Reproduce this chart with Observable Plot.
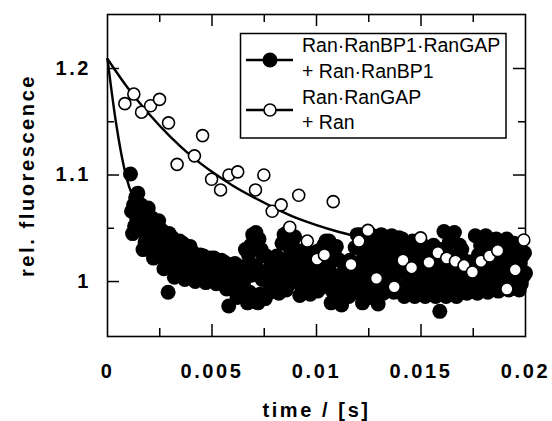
<!DOCTYPE html>
<html><head><meta charset="utf-8">
<script src="https://cdn.jsdelivr.net/npm/d3@7"></script>
<script src="https://cdn.jsdelivr.net/npm/@observablehq/plot@0.6"></script>
<style>
html,body{margin:0;padding:0;background:#fff;}
#wrap{position:relative;width:552px;height:421px;}
#legend{position:absolute;left:0;top:0;pointer-events:none;}
</style></head><body><div id="wrap"></div>
<script>
// Ran·RanBP1·RanGAP + Ran·RanBP1 (filled circles)
const filledTime = [
  0.00110,0.00115,0.00120,0.00125,0.00130,0.00135,0.00140,0.00145,0.00150,0.00155,
  0.00160,0.00165,0.00170,0.00175,0.00180,0.00185,0.00190,0.00195,0.00200,0.00205,
  0.00210,0.00215,0.00220,0.00225,0.00230,0.00235,0.00240,0.00245,0.00250,0.00255,
  0.00260,0.00265,0.00270,0.00275,0.00280,0.00285,0.00290,0.00295,0.00300,0.00305,
  0.00310,0.00315,0.00320,0.00325,0.00330,0.00335,0.00340,0.00345,0.00350,0.00355,
  0.00360,0.00365,0.00370,0.00375,0.00380,0.00385,0.00390,0.00395,0.00400,0.00405,
  0.00410,0.00415,0.00420,0.00425,0.00430,0.00435,0.00440,0.00445,0.00450,0.00455,
  0.00460,0.00465,0.00470,0.00475,0.00480,0.00485,0.00490,0.00495,0.00500,0.00505,
  0.00510,0.00515,0.00520,0.00525,0.00530,0.00535,0.00540,0.00545,0.00550,0.00555,
  0.00560,0.00565,0.00570,0.00575,0.00580,0.00585,0.00590,0.00595,0.00600,0.00605,
  0.00610,0.00615,0.00620,0.00625,0.00630,0.00635,0.00640,0.00645,0.00650,0.00655,
  0.00660,0.00665,0.00670,0.00675,0.00680,0.00685,0.00690,0.00695,0.00700,0.00705,
  0.00710,0.00715,0.00720,0.00725,0.00730,0.00735,0.00740,0.00745,0.00750,0.00755,
  0.00760,0.00765,0.00770,0.00775,0.00780,0.00785,0.00790,0.00795,0.00800,0.00805,
  0.00810,0.00815,0.00820,0.00825,0.00830,0.00835,0.00840,0.00845,0.00850,0.00855,
  0.00860,0.00865,0.00870,0.00875,0.00880,0.00885,0.00890,0.00895,0.00900,0.00905,
  0.00910,0.00915,0.00920,0.00925,0.00930,0.00935,0.00940,0.00945,0.00950,0.00955,
  0.00960,0.00965,0.00970,0.00975,0.00980,0.00985,0.00990,0.00995,0.01000,0.01005,
  0.01010,0.01015,0.01020,0.01025,0.01030,0.01035,0.01040,0.01045,0.01050,0.01055,
  0.01060,0.01065,0.01070,0.01075,0.01080,0.01085,0.01090,0.01095,0.01100,0.01105,
  0.01110,0.01115,0.01120,0.01125,0.01130,0.01135,0.01140,0.01145,0.01150,0.01155,
  0.01160,0.01165,0.01170,0.01175,0.01180,0.01185,0.01190,0.01195,0.01200,0.01205,
  0.01210,0.01215,0.01220,0.01225,0.01230,0.01235,0.01240,0.01245,0.01250,0.01255,
  0.01260,0.01265,0.01270,0.01275,0.01280,0.01285,0.01290,0.01295,0.01300,0.01305,
  0.01310,0.01315,0.01320,0.01325,0.01330,0.01335,0.01340,0.01345,0.01350,0.01355,
  0.01360,0.01365,0.01370,0.01375,0.01380,0.01385,0.01390,0.01395,0.01400,0.01405,
  0.01410,0.01415,0.01420,0.01425,0.01430,0.01435,0.01440,0.01445,0.01450,0.01455,
  0.01460,0.01465,0.01470,0.01475,0.01480,0.01485,0.01490,0.01495,0.01500,0.01505,
  0.01510,0.01515,0.01520,0.01525,0.01530,0.01535,0.01540,0.01545,0.01550,0.01555,
  0.01560,0.01565,0.01570,0.01575,0.01580,0.01585,0.01590,0.01595,0.01600,0.01605,
  0.01610,0.01615,0.01620,0.01625,0.01630,0.01635,0.01640,0.01645,0.01650,0.01655,
  0.01660,0.01665,0.01670,0.01675,0.01680,0.01685,0.01690,0.01695,0.01700,0.01705,
  0.01710,0.01715,0.01720,0.01725,0.01730,0.01735,0.01740,0.01745,0.01750,0.01755,
  0.01760,0.01765,0.01770,0.01775,0.01780,0.01785,0.01790,0.01795,0.01800,0.01805,
  0.01810,0.01815,0.01820,0.01825,0.01830,0.01835,0.01840,0.01845,0.01850,0.01855,
  0.01860,0.01865,0.01870,0.01875,0.01880,0.01885,0.01890,0.01895,0.01900,0.01905,
  0.01910,0.01915,0.01920,0.01925,0.01930,0.01935,0.01940,0.01945,0.01950,0.01955,
  0.01960,0.01965,0.01970,0.01975,0.01980,0.01985,0.01990,0.01995,0.02000
];
const filledValue = [
  1.101,1.066,1.045,1.072,1.052,1.079,1.059,1.083,1.062,1.048,
  1.072,1.051,1.030,1.058,1.037,1.065,1.044,1.069,1.048,1.033,
  1.060,1.041,1.022,1.047,1.028,1.054,1.035,1.057,1.038,1.025,
  1.048,1.030,1.012,1.036,1.018,1.042,0.990,1.045,1.027,1.015,
  1.041,1.023,1.004,1.029,1.010,1.035,1.016,1.038,1.020,1.007,
  1.036,1.019,1.002,1.025,1.008,1.030,1.013,1.033,1.016,1.005,
  1.027,1.014,1.000,1.018,1.005,1.022,1.009,1.025,1.011,1.002,
  1.024,1.012,0.999,1.016,1.003,1.020,1.007,1.022,1.009,1.001,
  1.022,1.010,0.998,1.014,1.002,1.018,1.006,1.020,1.008,1.000,
  1.018,1.006,0.993,1.010,0.977,1.014,1.001,1.016,1.004,0.995,
  1.017,1.001,0.985,1.006,0.990,1.012,0.996,1.014,0.998,0.988,
  1.030,1.010,0.980,1.025,0.990,1.034,1.006,1.044,1.015,0.985,
  1.046,1.013,0.980,1.040,0.988,1.030,1.002,1.024,1.008,0.984,
  1.024,1.006,0.989,1.012,0.995,1.018,1.001,1.021,1.004,0.992,
  1.024,1.006,0.989,1.014,0.996,1.036,1.004,1.044,1.020,0.992,
  1.046,1.022,0.998,1.030,1.006,1.038,1.014,1.042,1.018,1.002,
  1.029,1.008,0.987,1.015,0.994,1.022,1.001,1.026,1.005,0.990,
  1.028,1.009,0.988,1.016,0.993,1.023,1.000,1.027,1.004,0.991,
  1.029,1.012,0.994,1.020,0.998,1.034,1.006,1.038,1.016,0.996,
  1.038,1.009,0.980,1.019,0.990,1.028,1.000,1.033,1.004,0.985,
  1.020,0.999,0.978,1.006,0.984,1.013,0.992,1.017,0.996,0.986,
  1.020,1.004,0.989,1.010,0.994,1.032,1.002,1.044,1.016,0.992,
  1.044,1.012,0.980,1.023,0.991,1.033,1.001,1.039,1.007,0.985,
  1.044,1.020,0.995,1.028,0.999,1.036,1.011,0.979,1.024,0.997,
  1.044,1.016,0.989,1.026,0.998,1.035,1.007,1.040,1.012,0.993,
  1.043,1.017,0.990,1.025,0.997,1.036,1.008,1.041,1.013,0.992,
  1.040,1.013,0.986,1.022,0.995,1.031,1.004,1.036,1.009,0.990,
  1.038,1.012,0.986,1.021,0.995,1.029,1.003,1.034,1.008,0.990,
  1.034,1.010,0.986,1.018,0.994,1.026,1.002,1.030,1.006,0.990,
  1.034,1.010,0.986,1.018,0.994,1.026,0.972,1.030,1.006,0.990,
  1.047,1.016,0.986,1.027,0.996,1.037,1.006,1.042,1.012,0.991,
  1.046,1.014,0.986,1.024,0.995,1.034,1.004,1.030,1.009,0.990,
  1.019,1.004,0.989,1.009,0.994,1.014,0.999,1.017,1.002,0.991,
  1.043,1.016,0.989,1.025,0.998,1.034,1.007,1.039,1.012,0.993,
  1.043,1.016,0.990,1.025,0.999,1.034,1.008,1.039,1.012,0.994,
  1.040,1.015,0.991,1.024,0.999,1.032,1.007,1.036,1.012,0.995,
  1.040,1.016,0.992,1.024,1.000,1.032,1.008,1.036,1.012,0.996,
  1.030,1.011,0.992,1.017,0.998,1.024,1.005,1.027,1.008
];
// Ran·RanGAP + Ran (open circles)
const openTime = [
  0.00083,0.00126,0.00163,0.00206,0.00249,0.00292,0.00333,0.00416,0.00455,0.00498,
  0.00541,0.00581,0.00623,0.00708,0.00748,0.00788,0.00831,0.00872,0.00915,0.00956,
  0.01003,0.01038,0.01080,0.01165,0.01203,0.01246,0.01287,0.01372,0.01414,0.01455,
  0.01498,0.01538,0.01581,0.01623,0.01665,0.01706,0.01746,0.01787,0.01828,0.01867,
  0.01911,0.01951,0.01992
];
const openValue = [
  1.167,1.176,1.159,1.165,1.171,1.149,1.110,1.118,1.137,1.096,
  1.086,1.100,1.103,1.086,1.100,1.066,1.072,1.051,1.081,1.038,
  1.021,1.025,1.075,1.016,1.038,1.048,1.003,0.995,1.020,1.013,
  1.041,1.018,1.027,1.022,1.019,1.015,1.009,1.019,1.024,1.029,
  0.993,1.011,1.039
];
// fitted curves
const fitFilledTime  = [0, 0.0004, 0.0009, 0.0013, 0.002, 0.003, 0.004, 0.006, 0.010, 0.020];
const fitFilledValue = [1.209, 1.150, 1.098, 1.075, 1.048, 1.028, 1.019, 1.013, 1.011, 1.011];
const fitOpenTime  = [0, 0.001, 0.002, 0.003, 0.004, 0.005, 0.006, 0.007, 0.008, 0.009, 0.010, 0.011, 0.012, 0.013, 0.014, 0.016, 0.018, 0.020];
const fitOpenValue = [1.209, 1.181, 1.157, 1.136, 1.118, 1.103, 1.090, 1.079, 1.069, 1.060, 1.053, 1.047, 1.042, 1.037, 1.033, 1.027, 1.023, 1.019];

// axes
const xLabelTicks = [0, 0.005, 0.01, 0.015, 0.02];
const xMajorTicks = [0.005, 0.01, 0.015];
const xMinorTicks = [0.0025, 0.0075, 0.0125, 0.0175];
const yLabelTicks = [1, 1.1, 1.2];
const yMinorTicks = [1.05, 1.15];
const xTitle = "time / [s]";
const yTitle = "rel. fluorescence";
const legendLabels = [["Ran·RanBP1·RanGAP", "+ Ran·RanBP1"], ["Ran·RanGAP", "+ Ran"]];

const font = '"Liberation Sans", Arial, Helvetica, sans-serif';
const tk = {stroke: "black", strokeWidth: 1.5};

const chart = Plot.plot({
  width: 552, height: 421,
  marginLeft: 107, marginRight: 27, marginTop: 14, marginBottom: 85,
  x: {domain: [0, 0.02]},
  y: {domain: [0.9484, 1.2507]},
  style: {background: "white", color: "black", fontFamily: font, letterSpacing: "2.6px"},
  marks: [
    Plot.frame({stroke: "black", strokeWidth: 1.6}),
    Plot.tickX(xMajorTicks, {x: d => d, insetTop: 310, ...tk}),
    Plot.tickX(xMinorTicks, {x: d => d, insetTop: 314, ...tk}),
    Plot.tickX(xMajorTicks, {x: d => d, insetBottom: 310, ...tk}),
    Plot.tickX(xMinorTicks, {x: d => d, insetBottom: 314, ...tk}),
    Plot.tickY(yLabelTicks, {y: d => d, insetRight: 406, ...tk}),
    Plot.tickY(yMinorTicks, {y: d => d, insetRight: 411, ...tk}),
    Plot.tickY(yLabelTicks, {y: d => d, insetLeft: 406, ...tk}),
    Plot.tickY(yMinorTicks, {y: d => d, insetLeft: 411, ...tk}),
    Plot.axisX(xLabelTicks, {tickSize: 0, tickPadding: 27, fontSize: 20, fontWeight: "bold", tickFormat: d => String(d), label: null}),
    Plot.axisY(yLabelTicks, {tickSize: 0, tickPadding: 16.4, fontSize: 20, fontWeight: "bold", tickFormat: d => String(d), label: null}),
    Plot.text([xTitle], {frameAnchor: "bottom", dy: 80.6, fontSize: 20, fontWeight: "bold", text: d => d}),
    Plot.text([yTitle], {frameAnchor: "left", textAnchor: "middle", rotate: -90, dx: -80.4, fontSize: 20, fontWeight: "bold", text: d => d}),
    Plot.line(fitOpenTime, {x: fitOpenTime, y: fitOpenValue, stroke: "black", strokeWidth: 2.4, curve: "monotone-x"}),
    Plot.line(fitFilledTime, {x: fitFilledTime, y: fitFilledValue, stroke: "black", strokeWidth: 2.4, curve: "monotone-x"}),
    Plot.dot(filledTime, {x: filledTime, y: filledValue, r: 7.5, fill: "black", stroke: null}),
    Plot.dot(openTime, {x: openTime, y: openValue, r: 6, fill: "white", stroke: "black", strokeWidth: 1.6})
  ]
});
const wrap = document.getElementById("wrap");
wrap.appendChild(chart);

// legend overlay
const lg = d3.create("svg").attr("id", "legend").attr("width", 552).attr("height", 421);
lg.append("rect").attr("x", 240.5).attr("y", 33.5).attr("width", 265.5).attr("height", 104.5)
  .attr("fill", "white").attr("stroke", "black").attr("stroke-width", 1.5);
const symY = [60, 110];
const textBase = [[52, 78], [104, 129]];
legendLabels.forEach((lines, i) => {
  lg.append("line").attr("x1", 246).attr("x2", 293).attr("y1", symY[i]).attr("y2", symY[i])
    .attr("stroke", "black").attr("stroke-width", 2.4);
  lg.append("circle").attr("cx", 270).attr("cy", symY[i]).attr("r", i === 0 ? 7.5 : 6)
    .attr("fill", i === 0 ? "black" : "white").attr("stroke", "black").attr("stroke-width", i === 0 ? 0 : 1.6);
  lines.forEach((t, j) => {
    lg.append("text").attr("x", 302).attr("y", textBase[i][j]).attr("font-family", font)
      .attr("font-size", 19.5).attr("fill", "black").text(t);
  });
});
wrap.appendChild(lg.node());
</script></body></html>
